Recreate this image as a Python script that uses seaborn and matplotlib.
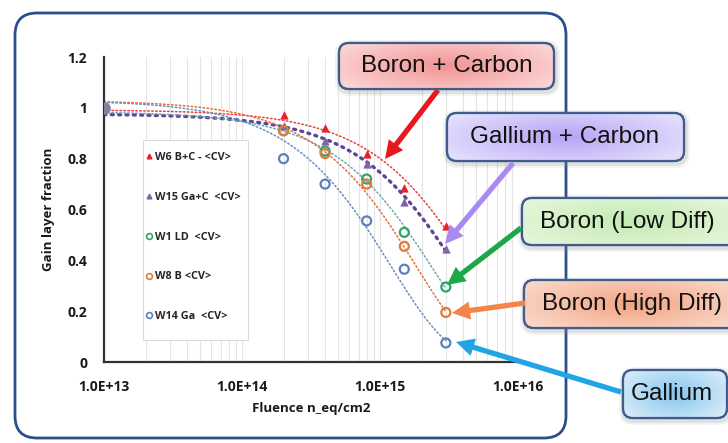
import numpy as np
import pandas as pd
import matplotlib
matplotlib.use("Agg")
import matplotlib.pyplot as plt
import seaborn as sns
from matplotlib.patches import FancyBboxPatch, Rectangle
from matplotlib.lines import Line2D
from matplotlib.colors import to_rgb

# ---------------------------------------------------------
# data
# ---------------------------------------------------------
fluence = [1e13, 2e14, 4e14, 8e14, 1.5e15, 3e15]

w6_bc = [1.0, 0.97, 0.92, 0.82, 0.685, 0.535]
w15_gac = [1.0, 0.93, 0.87, 0.78, 0.63, 0.445]
w1_ld = [1.0, 0.91, 0.83, 0.72, 0.51, 0.295]
w8_b = [1.0, 0.91, 0.82, 0.70, 0.455, 0.195]
w14_ga = [1.0, 0.80, 0.70, 0.555, 0.365, 0.075]

series_labels = ["W6 B+C - <CV>", "W15 Ga+C  <CV>", "W1 LD  <CV>", "W8 B <CV>", "W14 Ga  <CV>"]
x_ticks = [1e13, 1e14, 1e15, 1e16]
x_tick_labels = ["1.0E+13", "1.0E+14", "1.0E+15", "1.0E+16"]
y_ticks = [0, 0.2, 0.4, 0.6, 0.8, 1.0, 1.2]
y_tick_labels = ["0", "0.2", "0.4", "0.6", "0.8", "1", "1.2"]

callout_texts = ["Boron + Carbon", "Gallium + Carbon", "Boron (Low Diff)", "Boron (High Diff)", "Gallium"]

# ---------------------------------------------------------
# styling
# ---------------------------------------------------------
sns.set_style("white")
plt.rcParams["font.family"] = ["Open Sans", "DejaVu Sans"]

marker_colors = ["#e8202a", "#7e65a8", "#2ea66a", "#e07b39", "#5a82b8"]
fit_colors = ["#e8403a", "#5e4696", "#6aa6b0", "#e0703a", "#6a8cc0"]
markers = ["^", "^", "o", "o", "o"]
all_series = [w6_bc, w15_gac, w1_ld, w8_b, w14_ga]

W, H = 728, 443
fig = plt.figure(figsize=(W / 100, H / 100), dpi=100)
fig.patch.set_facecolor("white")

ax = fig.add_axes([104 / W, (H - 362) / H, 414 / W, 305 / H])
ax.set_xscale("log")
ax.set_xlim(1e13, 1e16)
ax.set_ylim(0, 1.2)

# vertical grid (major + minor)
ax.grid(True, which="both", axis="x", color="#e4e4e4", lw=0.8)
ax.grid(False, axis="y")
ax.set_axisbelow(True)

# exponential trend lines (same as Excel: fit of ln(y) vs fluence)
grid = np.logspace(13, np.log10(fluence[-1]), 300)
phi = np.array(fluence)
for i, vals in enumerate(all_series):
    b, a = np.polyfit(phi, np.log(np.array(vals)), 1)
    fit = np.exp(a) * np.exp(b * grid)
    lw = 2.4 if i == 1 else 1.1
    sns.lineplot(x=grid, y=fit, ax=ax, color=fit_colors[i], lw=lw,
                 dashes=False, zorder=2)
    ax.lines[-1].set_linestyle((0, (0.6, 1.6)) if i == 1 else (0, (1, 1.6)))
    ax.lines[-1].set_dash_capstyle("round")

# data points
for i, vals in enumerate(all_series):
    xs, ys = fluence[1:], vals[1:]
    if markers[i] == "^":
        sns.scatterplot(x=xs, y=ys, ax=ax, marker="^", s=28, color=marker_colors[i],
                        edgecolor=marker_colors[i], linewidth=0.5, zorder=4)
    else:
        sns.scatterplot(x=xs, y=ys, ax=ax, marker="o", s=42, facecolor="none",
                        edgecolor=marker_colors[i], linewidth=1.6, zorder=4)
# common start point
sns.scatterplot(x=fluence[:1], y=w6_bc[:1], ax=ax, marker="o", s=70,
                color="#8a7f9a", edgecolor="#8a7f9a", zorder=5)

# axes look
for s in ["top", "right"]:
    ax.spines[s].set_visible(False)
for s in ["left", "bottom"]:
    ax.spines[s].set_color("#333333")
    ax.spines[s].set_linewidth(1.6)
ax.set_xticks(x_ticks)
ax.set_xticklabels(x_tick_labels, fontsize=10, fontweight="bold", color="#1a1a1a")
ax.set_yticks(y_ticks)
ax.set_yticklabels(y_tick_labels, fontsize=10, fontweight="bold", color="#1a1a1a")
ax.tick_params(axis="x", which="major", direction="inout", length=8, width=1.2, color="#333333", pad=9)
ax.tick_params(axis="x", which="minor", direction="in", length=4, width=1.0, color="#333333")
ax.tick_params(axis="y", direction="in", length=5, width=1.2, color="#333333", pad=12)
ax.set_xlabel("Fluence n_eq/cm2", fontsize=9.5, fontweight="bold", labelpad=6, color="#1a1a1a")
ax.set_ylabel("Gain layer fraction", fontsize=9.5, fontweight="bold", labelpad=9, color="#1a1a1a")

# legend: separate white box, entries drawn inside it
ax.add_patch(Rectangle((0.094, 0.072), 0.254, 0.656, transform=ax.transAxes,
                       fc="white", ec="#dcdcdc", lw=0.8, zorder=3))
handles = []
for i, lab in enumerate(series_labels):
    if markers[i] == "^":
        h = Line2D([], [], ls="none", marker="^", ms=3.4, color=marker_colors[i])
    else:
        h = Line2D([], [], ls="none", marker="o", ms=4.2, mfc="none", mec=marker_colors[i], mew=1.2)
    handles.append(h)
leg = ax.legend(handles, series_labels, loc="upper left", bbox_to_anchor=(0.098, 0.695),
                frameon=False,
                prop={"family": ["Open Sans", "DejaVu Sans"], "weight": "bold", "size": 7.8},
                labelspacing=2.65, borderpad=0.2, handlelength=0.5, handletextpad=0.3,
                borderaxespad=0)
leg.set_zorder(6)

# ---------------------------------------------------------
# overlay in pixel coordinates: frame, callouts, arrows
# ---------------------------------------------------------
ov = fig.add_axes([0, 0, 1, 1], zorder=10)
ov.set_xlim(0, W)
ov.set_ylim(H, 0)
ov.axis("off")
ov.patch.set_alpha(0)

frame = FancyBboxPatch((15, 13), 551, 425, boxstyle="round,pad=0,rounding_size=22",
                       fc="none", ec="#2c4f8c", lw=2.0)
ov.add_patch(frame)

# (x0, y0, x1, y1) boxes, text centres, colours
boxes = [(339, 43, 554, 89), (447, 113, 684, 161), (522, 198, 740, 245),
         (524, 280, 740, 328), (623, 370, 727, 418)]
text_pos = [(447, 66), (565, 137), (627, 222), (632, 304), (672, 394)]
box_edge = ["#fbd3d3", "#e3defc", "#e4f6da", "#f9d6c6", "#d6ebf9"]
box_mid = ["#f29393", "#b6a3f5", "#c4eab2", "#f2a584", "#86c6ee"]
arrows = [((438, 90), (385, 159)), ((513, 163), (445, 244)), ((521, 228), (447, 285)),
          ((525, 303), (452, 313)), ((621, 392), (456, 342))]
arrow_colors = ["#e8191c", "#a98af2", "#1ea64a", "#f4854a", "#22a5e6"]

for (x0, y0, x1, y1), (tx, ty), ce, cm, txt in zip(boxes, text_pos, box_edge, box_mid, callout_texts):
    w, h = x1 - x0, y1 - y0
    for grow, alpha in [(5, 0.10), (3, 0.18)]:
        shadow = FancyBboxPatch((x0 - grow + 1, y0 - grow + 2), w + 2 * grow, h + 2 * grow,
                                boxstyle="round,pad=0,rounding_size=%d" % (10 + grow),
                                fc="#8a8a8a", ec="none", alpha=alpha)
        ov.add_patch(shadow)
    box = FancyBboxPatch((x0, y0), w, h, boxstyle="round,pad=0,rounding_size=10",
                         fc="white", ec="#3e5c8c", lw=1.6, zorder=3)
    ov.add_patch(box)
    # gradient fill, darker toward the middle
    gx = np.linspace(-1, 1, 120)
    gy = np.linspace(-1, 1, 40)
    GX, GY = np.meshgrid(gx, gy)
    t = np.clip(np.sqrt(0.75 * GX ** 2 + 0.5 * GY ** 2), 0, 1)[..., None]
    img = np.array(to_rgb(cm)) * (1 - t) + np.array(to_rgb(ce)) * t
    im = ov.imshow(img, extent=(x0, x1, y1, y0), aspect="auto", zorder=3, interpolation="bilinear")
    im.set_clip_path(box)
    edge = FancyBboxPatch((x0, y0), w, h, boxstyle="round,pad=0,rounding_size=10",
                          fc="none", ec="#3e5c8c", lw=1.6, zorder=3.5)
    ov.add_patch(edge)
    ov.text(tx, ty, txt, ha="center", va="center", fontsize=17.5,
            family=["Liberation Sans", "DejaVu Sans"], color="#111111", zorder=4)

for ((sx, sy), (ex, ey)), c in zip(arrows, arrow_colors):
    ov.annotate("", xy=(ex, ey), xytext=(sx, sy),
                arrowprops=dict(arrowstyle="simple,head_length=1.3,head_width=1.3,tail_width=0.38",
                                fc=c, ec="none", shrinkA=0, shrinkB=0), zorder=5)

ov.set_xlim(0, W)
ov.set_ylim(H, 0)

fig.savefig("out.png", dpi=100)
